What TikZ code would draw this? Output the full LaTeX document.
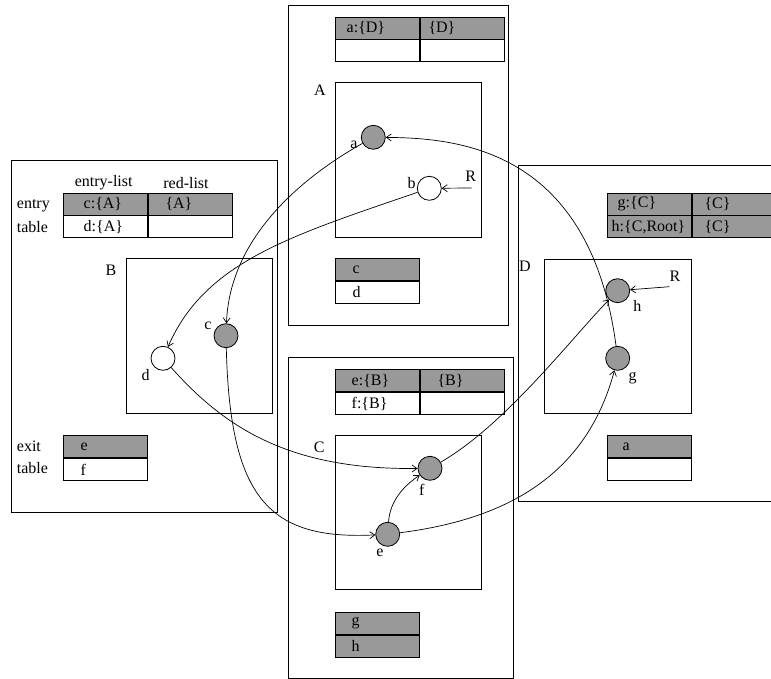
\documentclass[tikz,border=0pt]{standalone}
\usepackage{fontspec}
\setmainfont{Liberation Serif}
\usetikzlibrary{positioning,arrows.meta}
\definecolor{cellgray}{gray}{0.6}

\begin{document}
\begin{tikzpicture}[x=1pt,y=-1pt,font=\fontsize{16}{18}\selectfont,
	frame/.style={draw=black,line width=0.8pt},
	cell/.style={rectangle,draw=black,line width=0.8pt,minimum height=22pt,inner sep=0pt,text width=84pt,align=left,execute at begin node={\hspace*{#1}}},
	cell/.default=15pt,
	obj/.style={circle,draw=black,line width=0.8pt,fill=cellgray,minimum size=24pt,inner sep=0pt},
	free/.style={obj,fill=white},
	lbl/.style={inner sep=0pt},
	ref/.style={line width=0.7pt,-{Straight Barb[length=5pt,width=7pt]}}]
	\useasboundingbox (0,0) rectangle (771,679);
	\clip (0,0) rectangle (771,679);
	% outer frames (sites) and inner frames (heaps)
	\draw[frame] (11.7,160) rectangle (277.7,512);
	\draw[frame] (288.3,5) rectangle (508.3,325);
	\draw[frame] (288.3,357.3) rectangle (513.3,678.3);
	\draw[frame] (518.3,165) rectangle (800,501);
	\draw[frame] (126,258.7) rectangle (272.7,413.3);
	\draw[frame] (335.3,82.7) rectangle (481.7,237.3);
	\draw[frame] (335.3,435.3) rectangle (481.7,589.3);
	\draw[frame] (544.3,259) rectangle (691.7,413.3);
	\node[lbl] (nB) at (111,270.7) {B};
	\node[lbl] (nA) at (320,90.7) {A};
	\node[lbl] (nC) at (319.3,447.7) {C};
	\node[lbl] (nD) at (525,266) {D};
	% site B: entry and exit tables
	\node[lbl] (hdE) at (103.7,183) {entry-list};
	\node[lbl] (hdR) at (186,183) {red-list};
	\node[lbl,anchor=west] (tEn) at (16.7,205.7) {entry};
	\node[lbl,anchor=west] (tEt) at (16.7,227) {table};
	\node[lbl,anchor=west] (tXe) at (16.7,446.7) {exit};
	\node[lbl,anchor=west] (tXt) at (16.7,468) {table};
	\node[cell=20pt,fill=cellgray,anchor=north west] (eB1) at (63.3,192.7) {c:\{A\}};
	\node[cell=17pt,fill=cellgray,right=0pt of eB1] (eB2) {\{A\}};
	\node[cell=20pt,below=0pt of eB1] (eB3) {d:\{A\}};
	\node[cell,below=0pt of eB2] (eB4) {};
	\node[cell=17pt,fill=cellgray,anchor=north west] (xB1) at (63.3,435.3) {e};
	\node[cell=17pt,below=0pt of xB1] (xB2) {f};
	% site A
	\node[cell=11pt,fill=cellgray,anchor=north west] (eA1) at (335.3,16.7) {a:\{D\}};
	\node[cell=8pt,fill=cellgray,right=0pt of eA1] (eA2) {\{D\}};
	\node[cell,below=0pt of eA1] (eA3) {};
	\node[cell,below=0pt of eA2] (eA4) {};
	\node[cell=17pt,fill=cellgray,anchor=north west] (xA1) at (335.3,258.3) {c};
	\node[cell=17pt,below=0pt of xA1] (xA2) {d};
	% site C
	\node[cell=16pt,fill=cellgray,anchor=north west] (eC1) at (335.3,369.3) {e:\{B\}};
	\node[cell=17pt,fill=cellgray,right=0pt of eC1] (eC2) {\{B\}};
	\node[cell=16pt,below=0pt of eC1] (eC3) {f:\{B\}};
	\node[cell,below=0pt of eC2] (eC4) {};
	\node[cell=16pt,fill=cellgray,anchor=north west] (xC1) at (335.3,611.7) {g};
	\node[cell=16pt,fill=cellgray,below=0pt of xC1] (xC2) {h};
	% site D
	\node[cell=10pt,fill=cellgray,anchor=north west] (eD1) at (607.3,192.7) {g:\{C\}};
	\node[cell=12pt,fill=cellgray,right=0pt of eD1] (eD2) {\{C\}};
	\node[cell=4pt,fill=cellgray,below=0pt of eD1] (eD3) {h:\{C,Root\}};
	\node[cell=12pt,fill=cellgray,below=0pt of eD2] (eD4) {\{C\}};
	\node[cell=15pt,fill=cellgray,anchor=north west] (xD1) at (607.3,435.3) {a};
	\node[cell,below=0pt of xD1] (xD2) {};
	% objects
	\node[obj] (a) at (373.3,137.3) {};  \node[lbl] (la) at (354,145) {a};
	\node[free] (b) at (429.3,188.3) {}; \node[lbl] (lb) at (411.7,182.7) {b};
	\node[obj] (c) at (226,335.7) {};    \node[lbl] (lc) at (208,325.7) {c};
	\node[free] (d) at (163,358.3) {};   \node[lbl] (ld) at (145.7,375) {d};
	\node[obj] (e) at (387.7,534.3) {};  \node[lbl] (le) at (380,553.3) {e};
	\node[obj] (f) at (430,468.3) {};    \node[lbl] (lf) at (421.7,490) {f};
	\node[obj] (g) at (617.7,358.3) {};  \node[lbl] (lg) at (632.7,378.3) {g};
	\node[obj] (h) at (617.7,290.7) {};  \node[lbl] (lh) at (637.3,305.7) {h};
	% roots
	\node[lbl] (rA) at (470.7,176.7) {R}; \coordinate (rAt) at (471.7,188);
	\node[lbl] (rD) at (675,276) {R};     \coordinate (rDt) at (669.3,286.7);
	\draw[ref] (rAt) -- (b);
	\draw[ref] (rDt) -- (h);
	% references
	\draw[ref] (a) .. controls (315,170) and (230,230) .. (c);
	\draw[ref] (b) .. controls (290,236) and (205,262) .. (d);
	\draw[ref] (d) .. controls (225,428) and (290,470) .. (f);
	\draw[ref] (c) .. controls (230,500) and (270,540) .. (e);
	\draw[ref] (e) .. controls (390,500) and (405,485) .. (f);
	\draw[ref] (f) .. controls (505,425) and (570,340) .. (h);
	\draw[ref] (e) .. controls (500,520) and (585,480) .. (g);
	\draw[ref] (g) .. controls (590,150) and (460,138) .. (a);
\end{tikzpicture}
\end{document}
